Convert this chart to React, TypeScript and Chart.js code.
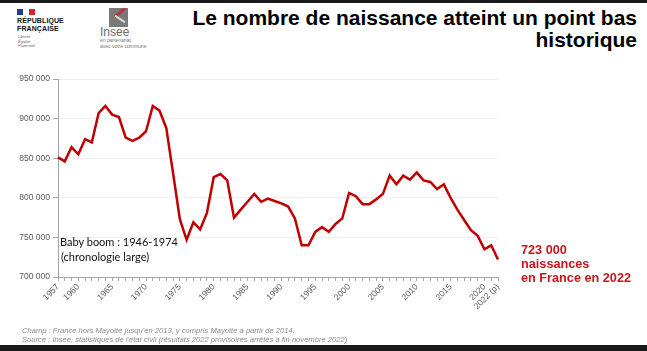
import React, { useEffect, useRef } from "react";
import { Chart, registerables } from "chart.js";

Chart.register(...registerables);

const years: string[] = [
  "1957","1958","1959","1960","1961","1962","1963","1964","1965","1966",
  "1967","1968","1969","1970","1971","1972","1973","1974","1975","1976",
  "1977","1978","1979","1980","1981","1982","1983","1984","1985","1986",
  "1987","1988","1989","1990","1991","1992","1993","1994","1995","1996",
  "1997","1998","1999","2000","2001","2002","2003","2004","2005","2006",
  "2007","2008","2009","2010","2011","2012","2013","2014","2015","2016",
  "2017","2018","2019","2020","2021","2022 (p)",
];

const births: number[] = [
  851000, 846000, 864000, 855000, 874000, 870000, 907000, 916000, 905000, 902000,
  876000, 872000, 876000, 884000, 916000, 910000, 888000, 831000, 773000, 747000,
  769000, 760000, 781000, 826000, 830000, 822000, 775000, 785000, 795000, 805000,
  795000, 799000, 796000, 793000, 789000, 774000, 740000, 740000, 757000, 763000,
  757000, 767000, 774000, 806000, 802000, 792000, 792000, 798000, 805000, 828000,
  817000, 828000, 823000, 832000, 822000, 820000, 811000, 817000, 800000, 785000,
  772000, 759000, 752000, 735000, 740000, 722000,
];

const shownYearLabels: string[] = [
  "1957","1960","1965","1970","1975","1980","1985","1990","1995","2000",
  "2005","2010","2015","2020","2022 (p)",
];

const yMin = 700000;
const yMax = 950000;
const yStep = 50000;

const title = ["Le nombre de naissance atteint un point bas", "historique"];
const noteLines = [
  "Champ : France hors Mayotte jusqu'en 2013, y compris Mayotte à partir de 2014.",
  "Source : Insee, statistiques de l'état civil (résultats 2022 provisoires arrêtés à fin novembre 2022)",
];
const babyBoom = ["Baby boom : 1946-1974", "(chronologie large)"];
const highlight = ["723 000", "naissances", "en France en 2022"];

function fmt(v: number): string {
  return String(Math.round(v)).replace(/\B(?=(\d{3})+(?!\d))/g, " ");
}

export default function App() {
  const ref = useRef<HTMLCanvasElement | null>(null);

  useEffect(() => {
    document.body.style.margin = "0";
    const ctx = ref.current;
    if (!ctx) return;
    const chart = new Chart(ctx, {
      type: "line",
      data: {
        labels: years,
        datasets: [
          {
            data: births,
            borderColor: "#c00000",
            borderWidth: 2.5,
            pointRadius: 0,
            tension: 0,
            fill: false,
          },
        ],
      },
      options: {
        animation: false,
        responsive: false,
        maintainAspectRatio: false,
        layout: { padding: { left: 0, top: 79, right: 149, bottom: 34 } },
        plugins: {
          legend: { display: false },
          tooltip: { enabled: false },
        },
        scales: {
          x: {
            type: "category",
            offset: false,
            afterFit: (s: any) => {
              s.height = 40;
            },
            border: { color: "#a6a6a6", width: 1 },
            grid: {
              drawOnChartArea: false,
              drawTicks: true,
              tickLength: 4,
              tickColor: "#a6a6a6",
            },
            ticks: {
              autoSkip: false,
              minRotation: 45,
              maxRotation: 45,
              padding: 1,
              color: "#595959",
              font: { family: "Liberation Sans", size: 8.5 },
              callback: (_v: any, i: number) =>
                shownYearLabels.includes(years[i]) ? years[i] : "",
            },
          },
          y: {
            min: yMin,
            max: yMax,
            afterFit: (s: any) => {
              s.width = 58;
            },
            border: { color: "#a6a6a6", width: 1 },
            grid: {
              color: "#efefef",
              tickColor: "#a6a6a6",
              tickLength: 5,
            },
            ticks: {
              stepSize: yStep,
              padding: 3,
              color: "#595959",
              font: { family: "Liberation Sans", size: 8.5 },
              callback: (v: any) => fmt(Number(v)),
            },
          },
        },
      },
    });
    return () => chart.destroy();
  }, []);

  return (
    <div
      style={{
        position: "absolute",
        left: 0,
        top: 0,
        width: 647,
        height: 351,
        background: "#ffffff",
        overflow: "hidden",
        fontFamily: "Liberation Sans, Arial, sans-serif",
      }}
    >
      <div style={{ position: "absolute", left: 0, top: 0, width: 647, height: 3, background: "#1a1a1a" }} />
      <div style={{ position: "absolute", left: 0, top: 345, width: 647, height: 6, background: "#1a1a1a" }} />

      {/* Marianne logo */}
      <div style={{ position: "absolute", left: 17, top: 9, width: 6, height: 6, background: "#1f3d8f" }} />
      <div style={{ position: "absolute", left: 29, top: 9, width: 6, height: 6, background: "#d8242c" }} />
      <div style={{ position: "absolute", left: 17, top: 17, fontSize: 7, fontWeight: 700, lineHeight: "8px", color: "#111", letterSpacing: 0.1 }}>
        RÉPUBLIQUE
        <br />
        FRANÇAISE
      </div>
      <div style={{ position: "absolute", left: 18, top: 35, fontSize: 4, fontStyle: "italic", lineHeight: "4.5px", color: "#666" }}>
        Liberté
        <br />
        Égalité
        <br />
        Fraternité
      </div>

      {/* Insee logo */}
      <div style={{ position: "absolute", left: 109, top: 8, width: 19, height: 19, background: "#7a7a7a", overflow: "hidden" }}>
        <div style={{ position: "absolute", left: 4, top: 3, width: 14, height: 3, background: "#b9373f", transform: "rotate(-40deg)" }} />
        <div style={{ position: "absolute", left: 5, top: 10, width: 12, height: 2, background: "#d9d9d9", transform: "rotate(35deg)" }} />
      </div>
      <div style={{ position: "absolute", left: 100, top: 26, fontSize: 12, lineHeight: "12px", color: "#6b6b6b" }}>Insee</div>
      <div style={{ position: "absolute", left: 100, top: 37, fontSize: 5, lineHeight: "6px", color: "#777" }}>
        en partenariat
        <br />
        avec votre commune
      </div>

      {/* Title */}
      <div
        style={{
          position: "absolute",
          right: 10,
          top: 7,
          textAlign: "right",
          fontSize: 21,
          fontWeight: 700,
          lineHeight: "22px",
          color: "#000",
          whiteSpace: "nowrap",
        }}
      >
        {title[0]}
        <br />
        {title[1]}
      </div>

      <canvas ref={ref} width={647} height={351} style={{ position: "absolute", left: 0, top: 0, width: 647, height: 351 }} />

      {/* Baby boom annotation */}
      <div
        style={{
          position: "absolute",
          left: 60,
          top: 234,
          fontFamily: "Lato, sans-serif",
          fontSize: 11,
          lineHeight: "15px",
          color: "#111",
          whiteSpace: "nowrap",
        }}
      >
        {babyBoom[0]}
        <br />
        <span style={{ marginLeft: 1 }}>{babyBoom[1]}</span>
      </div>

      {/* Highlight */}
      <div
        style={{
          position: "absolute",
          left: 521,
          top: 243,
          fontSize: 12.7,
          fontWeight: 700,
          lineHeight: "14px",
          color: "#c8161d",
          whiteSpace: "nowrap",
        }}
      >
        {highlight[0]}
        <br />
        {highlight[1]}
        <br />
        {highlight[2]}
      </div>

      {/* Notes */}
      <div
        style={{
          position: "absolute",
          left: 22,
          top: 325.5,
          fontSize: 7.6,
          fontStyle: "italic",
          lineHeight: "9.5px",
          color: "#8a8a8a",
          whiteSpace: "nowrap",
        }}
      >
        {noteLines[0]}
        <br />
        {noteLines[1]}
      </div>
    </div>
  );
}
